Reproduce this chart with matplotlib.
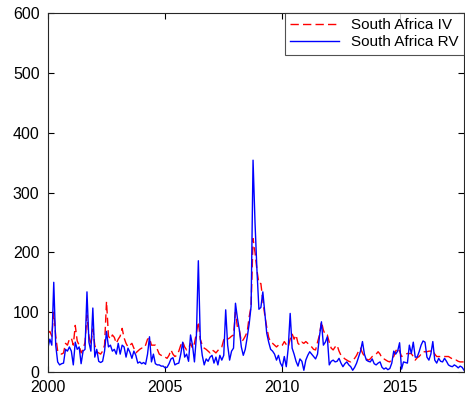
import numpy as np
import matplotlib
matplotlib.use("Agg")
import matplotlib.pyplot as plt

plt.rcParams['font.family'] = ['Liberation Sans', 'DejaVu Sans']

# monthly observations, Jan 2000 onwards
start_year = 2000
iv = [65, 68, 60, 100, 60, 35, 32, 30, 32, 48, 45, 55,
      57, 45, 78, 52, 45, 32, 38, 50, 95, 60, 45, 72,
      45, 34, 32, 30, 35, 45, 118, 60, 55, 62, 58, 48,
      55, 60, 73, 57, 48, 42, 45, 48, 40, 32, 35, 38,
      40, 40, 45, 55, 57, 45, 45, 45, 38, 30, 28, 25,
      25, 23, 28, 37, 30, 26, 28, 35, 45, 51, 42, 37,
      40, 48, 40, 48, 65, 84, 55, 45, 40, 38, 35, 32,
      37, 35, 32, 36, 40, 42, 54, 58, 55, 57, 60, 62,
      100, 75, 70, 51, 54, 60, 67, 92, 110, 223, 200, 170,
      148, 148, 120, 95, 75, 58, 50, 48, 45, 42, 45, 43,
      45, 51, 46, 42, 55, 64, 55, 62, 48, 45, 50, 48,
      51, 48, 45, 42, 38, 37, 50, 62, 84, 70, 62, 62,
      50, 40, 37, 42, 45, 35, 28, 25, 22, 20, 18, 17,
      20, 23, 28, 35, 40, 32, 26, 22, 20, 22, 26, 28,
      30, 34, 30, 23, 22, 20, 18, 17, 22, 26, 35, 40,
      35, 26, 28, 30, 31, 31, 31, 26, 20, 24, 26, 30,
      34, 34, 34, 35, 35, 37, 30, 26, 26, 26, 25, 26,
      26, 26, 24, 22, 20, 20, 18, 17, 17, 17]
rv = [40, 55, 45, 150, 45, 17, 12, 14, 15, 38, 35, 42,
      35, 12, 50, 38, 42, 14, 35, 38, 134, 50, 35, 107,
      25, 38, 18, 16, 18, 35, 68, 42, 45, 35, 38, 30,
      48, 30, 45, 42, 25, 40, 33, 23, 35, 28, 15, 17,
      14, 16, 13, 30, 59, 17, 30, 14, 12, 12, 10, 10,
      7, 8, 14, 22, 24, 12, 14, 15, 30, 50, 25, 30,
      18, 62, 45, 17, 60, 186, 55, 28, 12, 22, 18, 25,
      28, 15, 25, 12, 28, 20, 28, 104, 45, 20, 35, 40,
      115, 90, 70, 42, 28, 38, 58, 80, 110, 354, 250, 170,
      105, 108, 134, 100, 65, 50, 38, 35, 30, 20, 28, 15,
      9, 26, 9, 40, 98, 40, 30, 18, 10, 22, 18, 3,
      20, 28, 34, 30, 26, 22, 30, 60, 84, 45, 50, 59,
      12, 18, 20, 17, 18, 23, 15, 9, 14, 17, 12, 9,
      3, 8, 15, 25, 35, 51, 30, 20, 18, 17, 22, 14,
      12, 15, 17, 8, 5, 7, 4, 6, 15, 35, 30, 35,
      49, 5, 17, 16, 15, 45, 31, 50, 25, 25, 34, 45,
      52, 50, 25, 20, 30, 51, 20, 15, 23, 18, 17, 23,
      18, 12, 10, 9, 12, 10, 7, 10, 8, 3]

t = start_year + np.arange(len(iv)) / 12.0

fig = plt.figure(figsize=(4.65, 4.04), dpi=100)
ax = fig.add_axes([0.103, 0.079, 0.895, 0.889])

ax.plot(t, iv, color='red', linestyle='--', linewidth=1.0, dashes=(6, 3),
        label='South Africa IV')
ax.plot(t, rv, color='blue', linewidth=1.0, label='South Africa RV')

ax.set_xlim(2000, t[-1])
ax.set_ylim(0, 600)
ax.set_xticks([2000, 2005, 2010, 2015])
ax.set_yticks(range(0, 601, 100))
ax.tick_params(direction='in', top=True, right=True, labelsize=11.5,
               length=4, width=0.8)
ax.tick_params(axis='y', pad=6)
ax.tick_params(axis='x', pad=6)
for s in ax.spines.values():
    s.set_linewidth(0.8)
    s.set_color('#262626')

leg = ax.legend(loc='upper right', fontsize=11, frameon=True, fancybox=False,
                borderaxespad=0, handlelength=3.2, borderpad=0.35,
                labelspacing=0.2)
leg.get_frame().set_edgecolor('#262626')
leg.get_frame().set_linewidth(0.8)

fig.savefig('out.png', dpi=100)
